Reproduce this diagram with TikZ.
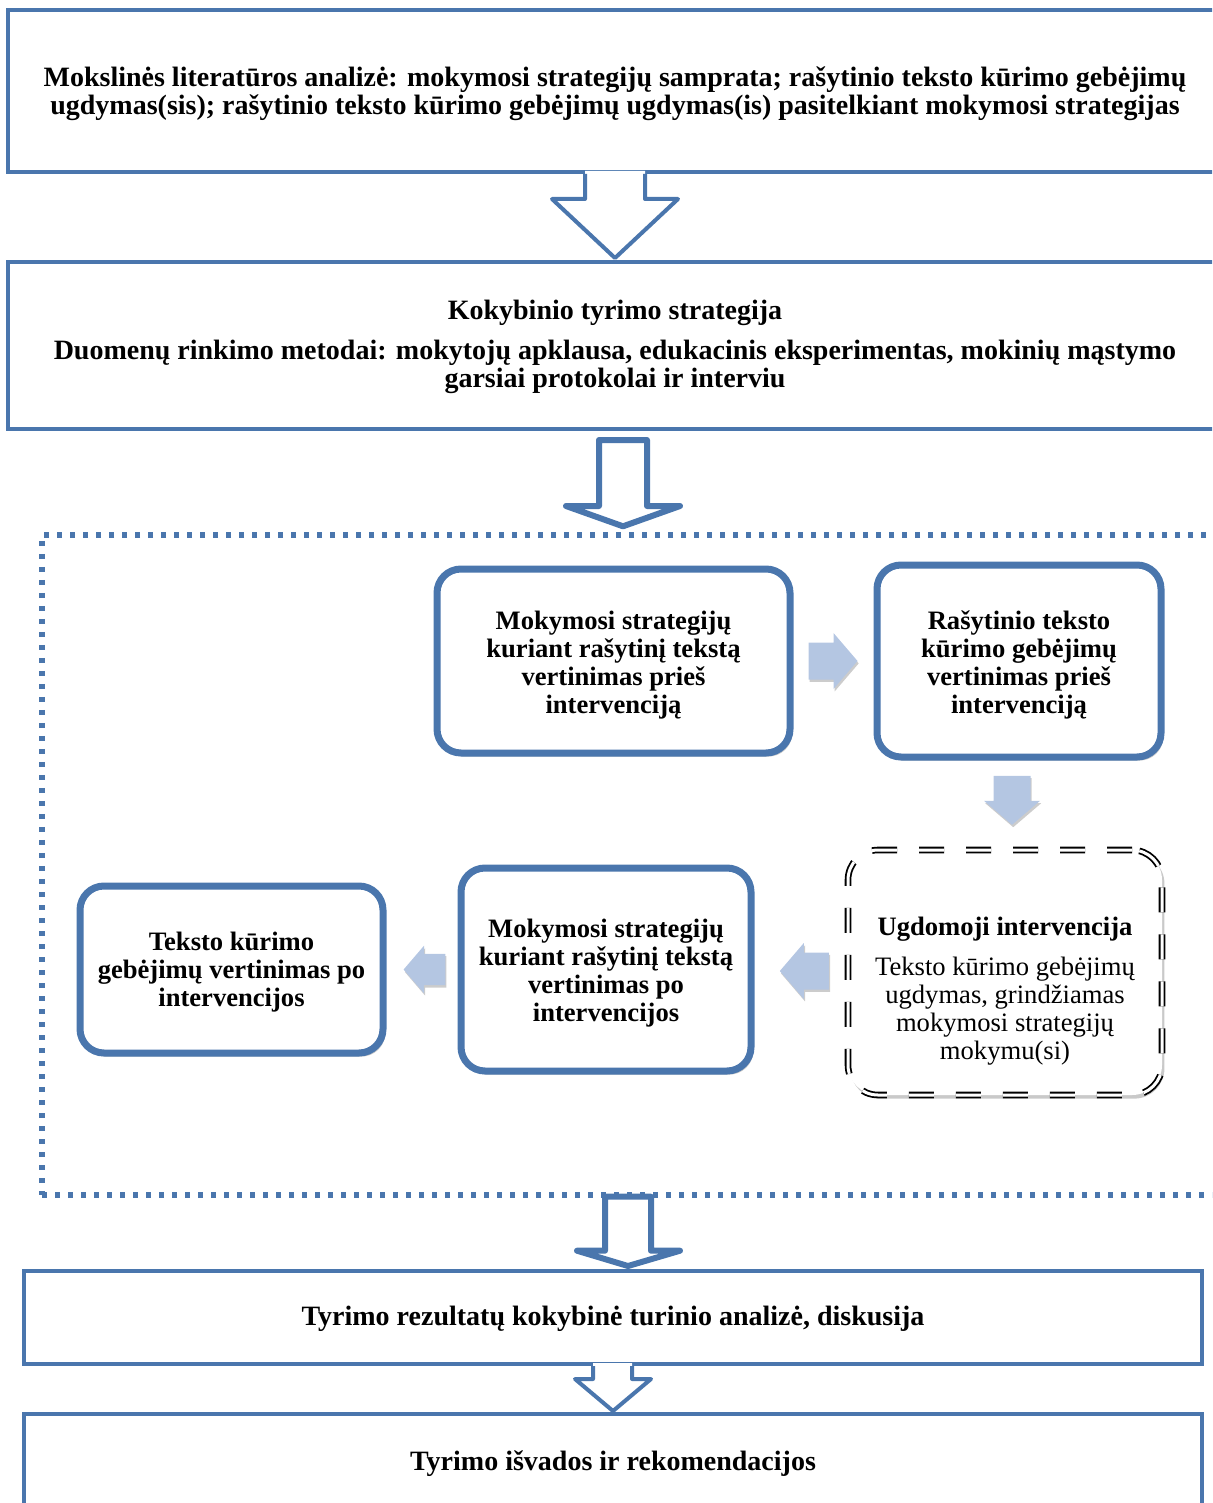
\documentclass[tikz,border=0pt]{standalone}
\usepackage{fontspec}
\setmainfont{Liberation Serif}
\usetikzlibrary{calc,shadows}
\definecolor{bord}{HTML}{4A76AD}
\definecolor{lightb}{HTML}{B4C6E2}
\begin{document}
\begin{tikzpicture}[x=0.5pt,y=-0.5pt,
  txt/.style={font=\fontsize{14}{14}\selectfont\bfseries, align=center, inner sep=0pt},
  itxt/.style={font=\fontsize{13.3}{14}\selectfont\bfseries, align=center, inner sep=0pt},
  sqbox/.style={draw=bord, line width=2pt, fill=white, inner sep=0pt},
  rbox/.style={draw=bord, line width=3.5pt, fill=white, rounded corners=12pt, inner sep=0pt,
    drop shadow={shadow xshift=1.2pt, shadow yshift=-1.8pt, opacity=0.3, fill=black!70}},
  dbox/.style={draw=black, line width=0.9pt, double=white, double distance=1.5pt,
    dash pattern=on 12.5pt off 11pt, fill=white, rounded corners=15pt, inner sep=0pt,
    drop shadow={shadow xshift=1.2pt, shadow yshift=-1.8pt, opacity=0.3, fill=black!70}},
  frame/.style={draw=bord, line width=2.7pt, dash pattern=on 2.7pt off 3.8pt, inner sep=0pt},
  openarrow/.style={draw=bord, line width=2pt, line join=round},
  blockarrow/.style={draw=bord, line width=3pt, fill=white, line join=round},
  lbarrow/.pic={
    \fill[lightb, drop shadow={shadow xshift=0.6pt, shadow yshift=-1.2pt, opacity=0.2, fill=black}]
      (-25,-18.5) -- (0,-18.5) -- (0,-28) -- (24,0) -- (0,28) -- (0,18.5) -- (-25,18.5) -- cycle;
  }]
\useasboundingbox (0,0) rectangle (1212,1503);
\clip (0,0) rectangle (1212,1503);

% dotted frame
\node[frame, minimum width=594pt, minimum height=330pt] (fr) at (636,865) {};

% top boxes
\node[sqbox, minimum width=607pt, minimum height=81pt,
  label={[txt, name=b1t, yshift=-1.5pt]center:{Mokslinės literatūros analizė: mokymosi strategijų samprata; rašytinio teksto kūrimo gebėjimų\\
   ugdymas(sis); rašytinio teksto kūrimo gebėjimų ugdymas(is) pasitelkiant mokymosi strategijas}}] (b1) at (615,91) {};
\node[sqbox, minimum width=607pt, minimum height=83.5pt,
  label={[txt, name=b2t, yshift=-0.8pt]center:{Kokybinio tyrimo strategija\\[6pt]
   Duomenų rinkimo metodai: mokytojų apklausa, edukacinis eksperimentas, mokinių mąstymo\\
   garsiai protokolai ir interviu}}] (b2) at (615,345.5) {};

% inner boxes
\node[rbox, minimum width=176.5pt, minimum height=92pt,
  label={[itxt, name=bat, yshift=-2pt]center:{Mokymosi strategijų\\ kuriant rašytinį tekstą\\ vertinimas prieš\\ intervenciją}}]
  (ba) at (613.5,661) {};
\node[rbox, minimum width=142pt, minimum height=96pt,
  label={[itxt, name=bbt, yshift=-2pt]center:{Rašytinio teksto\\ kūrimo gebėjimų\\ vertinimas prieš\\ intervenciją}}]
  (bb) at (1019,661) {};
\node[dbox, minimum width=157pt, minimum height=122.5pt] (bc) at (1005,972.5) {};
\node[align=center, inner sep=0pt, font=\fontsize{13.3}{14}\selectfont] (bct) at (1005,991)
  {\textbf{Ugdomoji intervencija}\\[6pt]
   Teksto kūrimo gebėjimų\\ ugdymas, grindžiamas\\ mokymosi strategijų\\ mokymu(si)};
\node[rbox, minimum width=145pt, minimum height=101.5pt,
  label={[itxt, name=bdt, yshift=-2pt]center:{Mokymosi strategijų\\ kuriant rašytinį tekstą\\ vertinimas po\\ intervencijos}}]
  (bd) at (606,969.5) {};
\node[rbox, minimum width=151.5pt, minimum height=83.5pt,
  label={[itxt, name=bet, yshift=-1.5pt]center:{Teksto kūrimo\\ gebėjimų vertinimas po\\ intervencijos}}]
  (be) at (231.5,969.5) {};

% bottom boxes
\node[sqbox, minimum width=589pt, minimum height=46.5pt,
  label={[txt, name=bft, yshift=-0.8pt]center:{Tyrimo rezultatų kokybinė turinio analizė, diskusija}}]
  (bf) at (613,1317.5) {};
\node[sqbox, minimum width=589pt, minimum height=47pt,
  label={[txt, name=bgt, yshift=-1.5pt]center:{Tyrimo išvados ir rekomendacijos}}]
  (bg) at (613,1461) {};

% arrow b1 -> b2 (open)
\fill[white] ($(b1.south)+(-30,-3)$) -- ($(b1.south)+(-30,25)$) -- ($(b1.south)+(-63,25)$) -- (b2.north)
  -- ($(b1.south)+(63,25)$) -- ($(b1.south)+(30,25)$) -- ($(b1.south)+(30,-3)$) -- cycle;
\draw[openarrow] ($(b1.south)+(-30,0)$) -- ($(b1.south)+(-30,25)$) -- ($(b1.south)+(-63,25)$) -- ($(b2.north)+(0,-2)$)
  -- ($(b1.south)+(63,25)$) -- ($(b1.south)+(30,25)$) -- ($(b1.south)+(30,0)$);

% arrow b2 -> frame (block)
\coordinate (a2) at ($(b2.south)+(8,9)$);
\draw[blockarrow] ($(a2)+(-24,0)$) -- ($(a2)+(24,0)$) -- ($(a2)+(24,66)$) -- ($(a2)+(57,66)$)
  -- ($(fr.north -| a2)+(0,-6)$)
  -- ($(a2)+(-57,66)$) -- ($(a2)+(-24,66)$) -- cycle;

% arrow frame -> bf (block)
\coordinate (a3) at ($(fr.south -| bf.north)+(15,-1)$);
\draw[blockarrow] ($(a3)+(-23,0)$) -- ($(a3)+(23,0)$) -- ($(a3)+(23,54)$) -- ($(a3)+(52,54)$)
  -- ($(bf.north -| a3)+(0,-3)$) -- ($(a3)+(-51,54)$) -- ($(a3)+(-23,54)$) -- cycle;

% arrow bf -> bg (open)
\fill[white] ($(bf.south)+(-20,-3)$) -- ($(bf.south)+(-20,13)$) -- ($(bf.south)+(-38,13)$) -- (bg.north)
  -- ($(bf.south)+(38,13)$) -- ($(bf.south)+(19,13)$) -- ($(bf.south)+(19,-3)$) -- cycle;
\draw[openarrow] ($(bf.south)+(-20,0)$) -- ($(bf.south)+(-20,13)$) -- ($(bf.south)+(-38,13)$) -- ($(bg.north)+(0,-1)$)
  -- ($(bf.south)+(38,13)$) -- ($(bf.south)+(19,13)$) -- ($(bf.south)+(19,0)$);

% light arrows
\pic at ($(ba.east)!0.5!(bb.west)$) {lbarrow};
\pic[rotate=-90] at ($(bb.south)!0.5!(bc.north)+(0,-4)$) {lbarrow};
\pic[rotate=180] at ($(bc.west)!0.5!(bd.east)+(3,0)$) {lbarrow};
\pic[rotate=180, scale=0.85] at ($(bd.west)!0.5!(be.east)+(2,0)$) {lbarrow};
\end{tikzpicture}
\end{document}
